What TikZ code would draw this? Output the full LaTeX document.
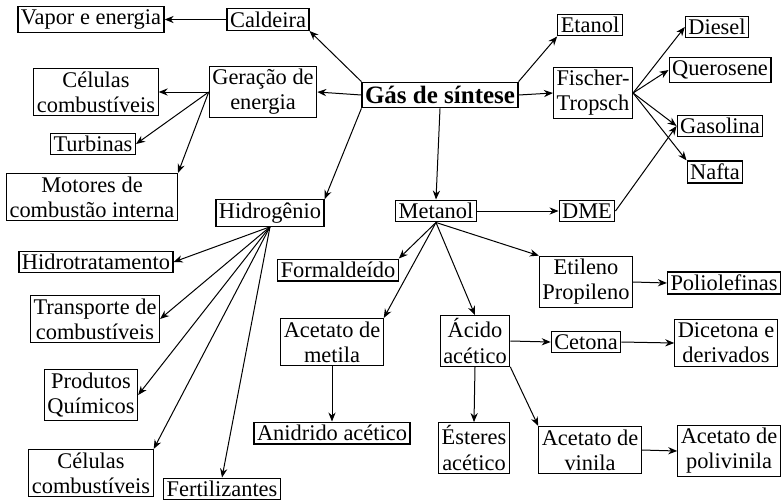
\documentclass[tikz,border=0pt]{standalone}
\usepackage{fontspec}
\setmainfont{Liberation Serif}
\usepackage{tikz}
\usetikzlibrary{positioning,arrows.meta}

\begin{document}
\begin{tikzpicture}[x=0.5pt, y=-0.5pt,
        comp/.style={draw, rectangle, line width=0.6pt, inner xsep=1.5pt, inner ysep=1.5pt,
                     align=center, font=\fontsize{11.2}{12.6}\selectfont},
        main/.style={comp, inner ysep=2pt, font=\fontsize{12.5}{14}\selectfont\bfseries},
        dep/.style={-{Stealth[length=4.5pt,width=3.6pt]}, line width=0.5pt}
    ]
        \useasboundingbox (0,0) rectangle (781,499);

        \node[main] (gas)      at (440,95)  {Gás de síntese};
        \node[comp] (caldeira) at (268,19.5) {Caldeira};
        \node[comp] (vapor)    at (91,19.5) {Vapor e energia};
        \node[comp] (geracao)  at (263,92)  {Geração de\\energia};
        \node[comp] (celulas)  at (96,92)   {Células\\combustíveis};
        \node[comp] (turbinas) at (93,144)  {Turbinas};
        \node[comp] (motores)  at (92,197)  {Motores de\\combustão interna};
        \node[comp] (hidro)    at (270,213) {Hidrogênio};
        \node[comp] (hidrotr)  at (96,262)  {Hidrotratamento};
        \node[comp] (transp)   at (95,319)  {Transporte de\\combustíveis};
        \node[comp] (prod)     at (91,395)  {Produtos\\Químicos};
        \node[comp] (celbaixo) at (91,473)  {Células\\combustíveis};
        \node[comp] (fert)     at (222,489) {Fertilizantes};

        \node[comp] (etanol)   at (590,25)  {Etanol};
        \node[comp] (fischer)  at (593,93)  {Fischer-\\Tropsch};
        \node[comp] (diesel)   at (717,27)  {Diesel};
        \node[comp] (queros)   at (720,70)  {Querosene};
        \node[comp] (gasolina) at (720,126) {Gasolina};
        \node[comp] (nafta)    at (715,172) {Nafta};
        \node[comp] (metanol)  at (436,211) {Metanol};
        \node[comp] (dme)      at (587,211) {DME};

        \node[comp] (formal)   at (338,270) {Formaldeído};
        \node[comp] (acmetila) at (332,342) {Acetato de\\metila};
        \node[comp] (anidrido) at (332,433) {Anidrido acético};
        \node[comp] (etileno)  at (586,282) {Etileno\\Propileno};
        \node[comp] (poliol)   at (724,283) {Poliolefinas};
        \node[comp] (acido)    at (475,341) {Ácido\\acético};
        \node[comp] (cetona)   at (586,342) {Cetona};
        \node[comp] (dicet)    at (726,343) {Dicetona e\\derivados};
        \node[comp] (esteres)  at (474,448) {Ésteres\\acético};
        \node[comp] (acvinila) at (590,450) {Acetato de\\vinila};
        \node[comp] (polivin)  at (729,451) {Acetato de\\polivinila};

        \draw[dep] (caldeira.west) -- (vapor.east);
        \draw[dep] (gas.north west) -- (caldeira.south east);
        \draw[dep] (gas.west) -- (geracao.east);
        \draw[dep] (gas.south west) -- (hidro.north east);
        \draw[dep] (gas.south) -- (metanol.north);
        \draw[dep] (gas.north east) -- (etanol.south west);
        \draw[dep] (gas.east) -- (fischer.west);

        \draw[dep] (geracao.west) -- (celulas.east);
        \draw[dep] (geracao.west) -- (turbinas.east);
        \draw[dep] (geracao.west) -- (motores.north east);

        \draw[dep] (hidro.south) -- (hidrotr.east);
        \draw[dep] (hidro.south) -- (transp.east);
        \draw[dep] (hidro.south) -- (prod.east);
        \draw[dep] (hidro.south) -- (celbaixo.north east);
        \draw[dep] (hidro.south) -- (fert.north);

        \draw[dep] (fischer.east) -- (diesel.west);
        \draw[dep] (fischer.east) -- (queros.west);
        \draw[dep] (fischer.east) -- (gasolina.west);
        \draw[dep] (fischer.east) -- (nafta.north west);
        \draw[dep] (metanol.east) -- (dme.west);
        \draw[dep] (dme.east) -- (gasolina.west);

        \draw[dep] (metanol.south) -- (formal.north east);
        \draw[dep] (metanol.south) -- (acmetila.north east);
        \draw[dep] (metanol.south) -- (acido.north);
        \draw[dep] (metanol.south) -- (etileno.north west);
        \draw[dep] (acmetila.south) -- (anidrido.north);
        \draw[dep] (etileno.east) -- (poliol.west);
        \draw[dep] (acido.east) -- (cetona.west);
        \draw[dep] (cetona.east) -- (dicet.west);
        \draw[dep] (acido.south) -- (esteres.north);
        \draw[dep] (acido.south east) -- (acvinila.north west);
        \draw[dep] (acvinila.east) -- (polivin.west);
    \end{tikzpicture}
\end{document}
